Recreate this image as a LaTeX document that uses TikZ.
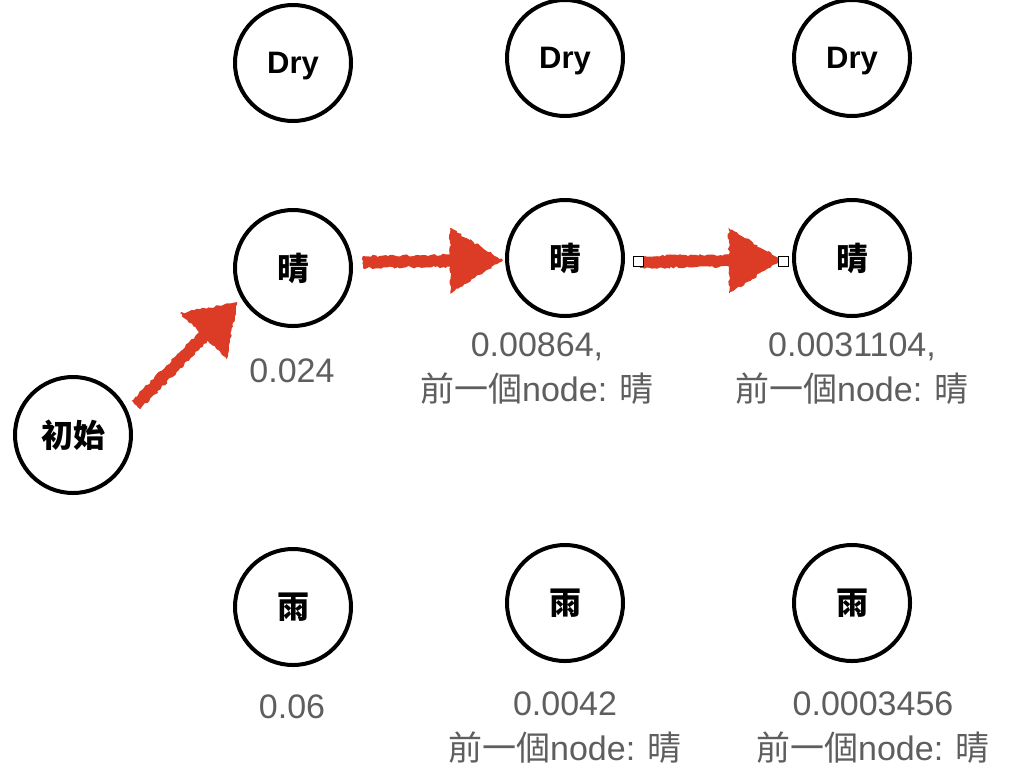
\documentclass[tikz,border=0pt]{standalone}
\usepackage{fontspec}
\setmainfont{Liberation Sans}
\newfontfamily\cjk{Noto Sans CJK TC}
\usetikzlibrary{calc,decorations.pathmorphing}
\definecolor{arrowred}{HTML}{DC3B26}
\definecolor{labelgray}{HTML}{5E5E5E}
\tikzset{
  cstate/.style={circle,draw=black,line width=4pt,fill=white,minimum size=116pt,inner sep=0pt,font=\fontsize{32}{32}\selectfont\cjk\bfseries},
  state/.style={cstate,text depth=0pt,font=\fontsize{31}{31}\selectfont\bfseries},
  prob/.style={text=labelgray,font=\fontsize{34}{45}\selectfont,align=center,inner sep=0pt},
  handle/.style={rectangle,draw=black,line width=0.8pt,fill=white,minimum size=10pt,inner sep=0pt},
  crayon/.style={fill=arrowred,decorate,decoration={random steps,segment length=2.5pt,amplitude=1.2pt}}
}
\newcommand{\crayonarrow}[4]{% tail, tip, head length, head half width
  \coordinate (hb) at ($(#2)!#3pt!(#1)$);
  \fill[crayon] ($(#1)!6pt!90:(#2)$) -- ($(hb)!6pt!-90:(#1)$) -- ($(hb)!#4pt!-90:(#1)$) -- (#2)
     -- ($(hb)!#4pt!90:(#1)$) -- ($(hb)!6pt!90:(#1)$) -- ($(#1)!6pt!-90:(#2)$) -- cycle;}
\begin{document}
\begin{tikzpicture}[x=1pt,y=-1pt]
\useasboundingbox[fill=white] (0,0) rectangle (1024,782);
% nodes
\node[state] (d1) at (293,63) {Dry};
\node[state] (d2) at (565,58) {Dry};
\node[state] (d3) at (852,58) {Dry};
\node[cstate] (s1) at (293,268) {晴};
\node[cstate] (s2) at (565,258) {晴};
\node[cstate] (s3) at (852,258) {晴};
\node[cstate] (init) at (73,435) {初始};
\node[cstate] (r1) at (293,607) {雨};
\node[cstate] (r2) at (565,603) {雨};
\node[cstate] (r3) at (852,603) {雨};
% labels
\node[prob] (l1) at (292,371) {0.024};
\node[prob] (l2) at (537,369) {0.00864,\\{\cjk 前一個}node: {\cjk 晴}};
\node[prob] (l3) at (852,369) {0.0031104,\\{\cjk 前一個}node: {\cjk 晴}};
\node[prob] (l4) at (292,707) {0.06};
\node[prob] (l5) at (565,728) {0.0042\\{\cjk 前一個}node: {\cjk 晴}};
\node[prob] (l6) at (873,728) {0.0003456\\{\cjk 前一個}node: {\cjk 晴}};
% arrows
\coordinate (t1) at (136,405);
\coordinate (p1) at (237,302);
\crayonarrow{t1}{p1}{48}{33}
\coordinate (t2) at (363,262);
\coordinate (p2) at (503,260);
\crayonarrow{t2}{p2}{53}{33}
\coordinate (t3) at (640,262);
\coordinate (p3) at (781,260);
\crayonarrow{t3}{p3}{52}{33}
\node[handle] (h1) at (638,261) {};
\node[handle] (h2) at (783,261) {};
\end{tikzpicture}
\end{document}
